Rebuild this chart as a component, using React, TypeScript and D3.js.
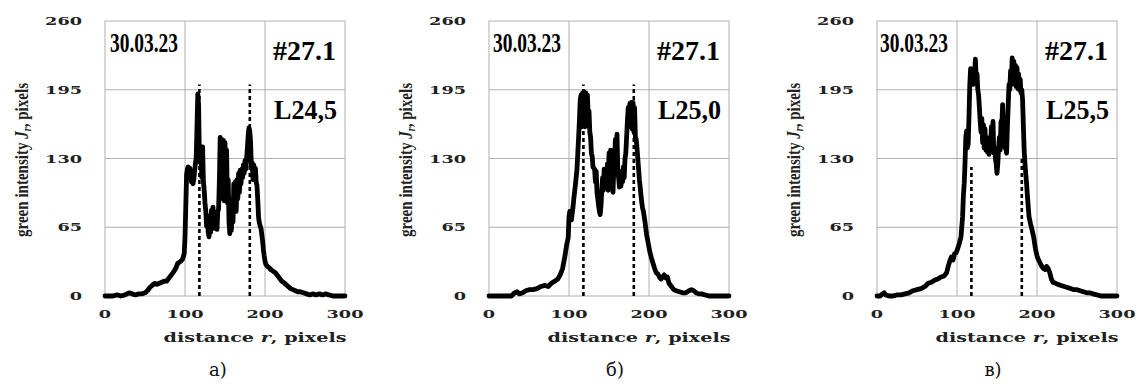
import React from "react";
import * as d3 from "d3";

// radial profiles: distance r (pixels) and green intensity Jr
const rA = [0, 5, 10, 15, 20, 25, 30, 34, 38, 42, 46, 50, 53, 56, 59, 62, 65, 68, 71, 74, 77, 80, 83, 86, 89, 91, 93, 95, 97, 99, 100, 101, 102, 103, 104, 105, 106, 107, 108, 109, 110, 111, 112, 113, 114, 115, 116, 117, 118, 119, 120, 121, 122, 123, 124, 125, 126, 127, 128, 129, 130, 131, 132, 133, 134, 135, 136, 137, 138, 139, 140, 141, 142, 143, 144, 145, 146, 147, 148, 149, 150, 151, 152, 153, 154, 155, 156, 157, 158, 159, 160, 161, 162, 163, 164, 165, 166, 167, 168, 169, 170, 171, 172, 173, 174, 175, 176, 177, 178, 179, 180, 181, 182, 183, 184, 185, 186, 187, 188, 189, 190, 191, 192, 193, 194, 195, 196, 197, 198, 199, 200, 201, 203, 205, 207, 209, 211, 213, 215, 217, 219, 221, 223, 226, 229, 232, 235, 238, 241, 244, 248, 252, 256, 260, 264, 268, 272, 276, 280, 285, 290, 300];
const jA = [0, 0, 0, 1, 0, 1, 3, 2, 1, 2, 2, 3, 5, 8, 10, 12, 11, 12, 13, 14, 14, 17, 20, 23, 27, 31, 32, 33, 35, 40, 55, 85, 115, 120, 122, 118, 121, 116, 108, 112, 106, 110, 118, 125, 131, 160, 191, 180, 130, 126, 135, 112, 141, 108, 100, 88, 80, 66, 76, 60, 56, 72, 60, 81, 66, 84, 64, 78, 66, 74, 63, 80, 82, 110, 150, 98, 148, 92, 147, 90, 145, 96, 138, 88, 110, 70, 59, 80, 62, 92, 70, 106, 84, 108, 80, 110, 92, 116, 98, 119, 106, 120, 112, 124, 116, 128, 120, 130, 140, 152, 159, 156, 145, 122, 126, 110, 124, 112, 121, 108, 104, 90, 74, 69, 66, 64, 58, 52, 44, 38, 33, 30, 28, 27, 25, 24, 23, 22, 20, 18, 16, 14, 13, 11, 9, 7, 6, 5, 4, 4, 3, 2, 1, 2, 1, 2, 1, 2, 1, 0, 0, 0];

const rB = [0, 10, 20, 28, 32, 35, 38, 42, 46, 50, 55, 60, 65, 70, 74, 78, 82, 86, 89, 92, 95, 97, 99, 100, 101, 103, 105, 106, 108, 110, 112, 113, 114, 115, 116, 117, 118, 119, 120, 121, 122, 123, 124, 125, 126, 127, 128, 129, 130, 132, 133, 134, 135, 136, 137, 138, 139, 140, 141, 142, 143, 144, 145, 146, 147, 148, 149, 150, 151, 152, 153, 154, 155, 156, 157, 158, 159, 160, 161, 162, 163, 164, 165, 166, 167, 168, 169, 170, 171, 172, 173, 174, 175, 176, 177, 178, 179, 180, 181, 182, 183, 184, 185, 186, 187, 188, 189, 190, 191, 192, 193, 195, 197, 199, 201, 203, 205, 207, 209, 211, 213, 215, 217, 219, 221, 223, 225, 228, 231, 234, 238, 242, 246, 250, 253, 256, 259, 262, 266, 270, 275, 280, 290, 300];
const jB = [0, 0, 0, 0, 3, 4, 2, 3, 5, 6, 6, 7, 9, 10, 9, 12, 14, 16, 20, 26, 38, 48, 55, 75, 80, 72, 84, 92, 105, 120, 150, 165, 185, 190, 160, 192, 165, 193, 160, 192, 165, 190, 170, 175, 155, 150, 135, 132, 122, 120, 108, 118, 98, 92, 85, 80, 77, 85, 100, 112, 100, 120, 104, 118, 106, 125, 100, 135, 110, 138, 106, 105, 98, 120, 128, 148, 125, 153, 118, 112, 103, 110, 104, 118, 108, 122, 112, 130, 135, 150, 165, 178, 160, 182, 160, 183, 158, 183, 155, 178, 150, 148, 140, 130, 120, 110, 103, 95, 88, 83, 80, 70, 58, 50, 42, 36, 31, 26, 22, 21, 18, 16, 18, 20, 17, 18, 12, 9, 6, 5, 4, 3, 3, 5, 6, 5, 3, 2, 2, 1, 0, 0, 0, 0];

const rC = [0, 4, 7, 9, 11, 15, 20, 25, 30, 35, 40, 45, 50, 55, 60, 64, 68, 72, 76, 80, 84, 87, 89, 91, 93, 95, 97, 99, 101, 103, 105, 107, 108, 109, 110, 111, 112, 113, 114, 115, 116, 117, 118, 119, 120, 121, 122, 123, 124, 125, 126, 127, 128, 129, 130, 131, 132, 133, 134, 135, 136, 137, 138, 139, 140, 141, 142, 143, 144, 145, 146, 147, 148, 149, 150, 151, 152, 153, 154, 155, 156, 157, 158, 159, 160, 161, 162, 163, 164, 165, 166, 167, 168, 169, 170, 171, 172, 173, 174, 175, 176, 177, 178, 179, 180, 181, 182, 183, 184, 185, 186, 187, 188, 189, 190, 192, 194, 196, 198, 200, 202, 204, 206, 208, 210, 212, 214, 216, 218, 220, 223, 226, 230, 234, 238, 242, 246, 250, 254, 258, 262, 266, 270, 275, 280, 290, 300];
const jC = [0, 0, 2, 3, 1, 0, 0, 1, 1, 2, 3, 5, 6, 7, 9, 12, 13, 15, 16, 18, 19, 22, 28, 33, 37, 34, 40, 41, 45, 50, 56, 75, 95, 106, 125, 150, 156, 140, 144, 170, 200, 215, 205, 212, 200, 215, 210, 224, 205, 210, 195, 190, 178, 165, 155, 168, 145, 162, 140, 158, 138, 150, 136, 148, 134, 150, 140, 160, 140, 165, 135, 140, 130, 125, 116, 125, 140, 150, 138, 165, 160, 181, 160, 160, 140, 140, 135, 160, 180, 200, 195, 213, 200, 225, 205, 222, 200, 218, 198, 216, 196, 210, 195, 205, 192, 195, 185, 160, 137, 125, 115, 106, 95, 85, 75, 68, 62, 55, 45, 38, 34, 31, 28, 26, 25, 28, 26, 22, 16, 13, 12, 11, 10, 9, 8, 7, 6, 6, 5, 4, 3, 3, 2, 1, 0, 0, 0];

const yTicks = [0, 65, 130, 195, 260];
const xTicks = [0, 100, 200, 300];
const xGrid = [100, 200];
const yGrid = [65, 130, 195];

// dashed markers: where they stand and how high they reach
const dashR = [118, 181];
const dashTopA = [200, 200];
const dashTopB = [200, 200];
const dashTopC = [122, 131];

const dateLabel = "30.03.23";
const sampleLabel = "#27.1";
const layerLabels = ["L24,5", "L25,0", "L25,5"];
const captions = ["а)", "б)", "в)"];

const panels = [
  { left: 105, r: rA, j: jA, dashTop: dashTopA, layer: layerLabels[0], caption: captions[0], capX: 218, dateDx: 5 },
  { left: 489, r: rB, j: jB, dashTop: dashTopB, layer: layerLabels[1], caption: captions[1], capX: 615, dateDx: 4 },
  { left: 877, r: rC, j: jC, dashTop: dashTopC, layer: layerLabels[2], caption: captions[2], capX: 993, dateDx: 3 },
];

const W = 240;
const tickFont = "'DejaVu Serif', serif";
const timesFont = "'Liberation Serif', 'Times New Roman', serif";

function Panel(p) {
  const x = d3.scaleLinear().domain([0, 300]).range([p.left, p.left + W]);
  const y = d3.scaleLinear().domain([0, 260]).range([296, 21]);
  const line = d3
    .line()
    .x((d, i) => x(p.r[i]))
    .y((d) => y(d));

  return (
    <g>
      {/* grid + frame */}
      {xGrid.map((t) => (
        <line key={"vx" + t} x1={x(t)} x2={x(t)} y1={y(0)} y2={y(260)} stroke="#b0b0b0" strokeWidth={1} />
      ))}
      {yGrid.map((t) => (
        <line key={"hy" + t} x1={x(0)} x2={x(300)} y1={y(t)} y2={y(t)} stroke="#b0b0b0" strokeWidth={1} />
      ))}
      <rect x={x(0)} y={y(260)} width={x(300) - x(0)} height={y(0) - y(260)} fill="none" stroke="#b0b0b0" strokeWidth={1} />

      {/* profile */}
      <path d={line(p.j)} fill="none" stroke="#000" strokeWidth={4.8} strokeLinejoin="round" strokeLinecap="round" />

      {dashR.map((r, i) => (
        <line key={"d" + r} x1={x(r)} x2={x(r)} y1={y(0)} y2={y(p.dashTop[i])} stroke="#000" strokeWidth={2.6} strokeDasharray="4 3" />
      ))}

      {/* tick labels */}
      {yTicks.map((t) => (
        <text key={"yt" + t} x={p.left - 23} y={y(t) + 4} textAnchor="end" fontFamily={tickFont} fontWeight="bold" fontSize={11}
          textLength={String(t).length * 12.3} lengthAdjust="spacingAndGlyphs" fill="#222">
          {t}
        </text>
      ))}
      {xTicks.map((t) => (
        <text key={"xt" + t} x={x(t)} y={318} textAnchor="middle" fontFamily={tickFont} fontWeight="bold" fontSize={11}
          textLength={String(t).length * 12.3} lengthAdjust="spacingAndGlyphs" fill="#222">
          {t}
        </text>
      ))}

      {/* axis titles */}
      <text x={p.left + 150} y={342} textAnchor="middle" fontFamily={tickFont} fontWeight="bold" fontSize={13}
        textLength={183} lengthAdjust="spacingAndGlyphs" fill="#222">
        distance <tspan fontStyle="italic">r</tspan>, pixels
      </text>
      <text transform={`translate(${p.left - 77},160) rotate(-90)`} textAnchor="middle" fontFamily={timesFont} fontWeight="bold"
        fontSize={18} textLength={154} lengthAdjust="spacingAndGlyphs" fill="#222">
        green intensity <tspan fontStyle="italic">J</tspan><tspan fontStyle="italic" fontSize={12} dy={3}>r</tspan><tspan dy={-3}>, pixels</tspan>
      </text>

      {/* annotations */}
      <text x={p.left + p.dateDx} y={52} fontFamily={timesFont} fontWeight="bold" fontSize={28} textLength={68} lengthAdjust="spacingAndGlyphs">
        {dateLabel}
      </text>
      <text x={p.left + 168} y={60} fontFamily={timesFont} fontWeight="bold" fontSize={28} textLength={63} lengthAdjust="spacingAndGlyphs">
        {sampleLabel}
      </text>
      <text x={p.left + 169} y={119} fontFamily={timesFont} fontWeight="bold" fontSize={28} textLength={63} lengthAdjust="spacingAndGlyphs">
        {p.layer}
      </text>

      <text x={p.capX} y={376} textAnchor="middle" fontFamily={tickFont} fontSize={18} fill="#111">
        {p.caption}
      </text>
    </g>
  );
}

export default function App() {
  return (
    <svg width={1140} height={387} style={{ display: "block", position: "absolute", left: 0, top: 0, background: "#fff" }}>
      {panels.map((p, i) => (
        <Panel key={i} {...p} />
      ))}
    </svg>
  );
}
